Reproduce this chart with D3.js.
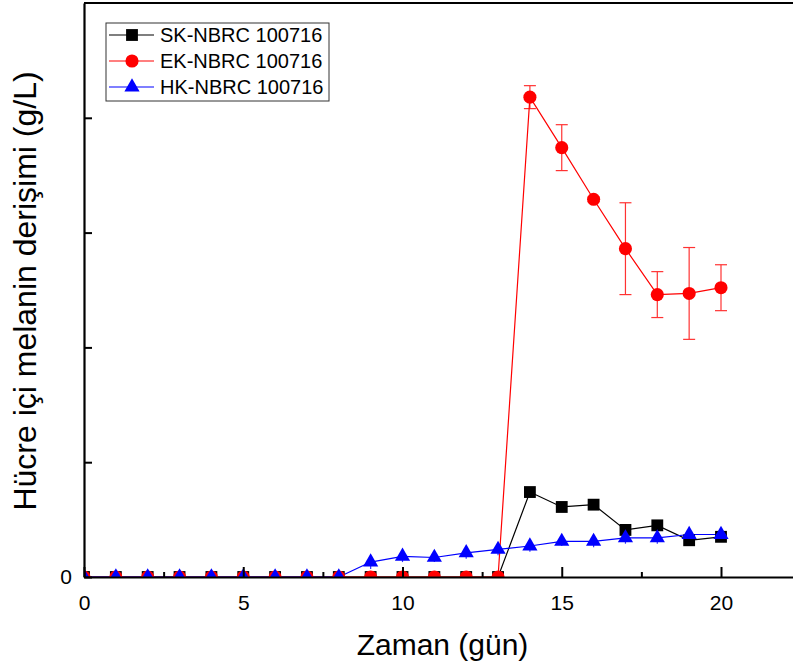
<!DOCTYPE html>
<html>
<head>
<meta charset="utf-8">
<script src="https://cdn.jsdelivr.net/npm/d3@7"></script>
<style>
  body { margin: 0; background: #fff; }
  svg { display: block; font-family: "Liberation Sans", Arial, sans-serif; }
</style>
</head>
<body>
<svg class="chart" width="793" height="668"></svg>
<script>
const days = [0, 1, 2, 3, 4, 5, 6, 7, 8, 9, 10, 11, 12, 13, 14, 15, 16, 17, 18, 19, 20];
const skValues = [0, 0, 0, 0, 0, 0, 0, 0, 0, 0, 0, 0, 0, 0, 0.74, 0.61, 0.63, 0.41, 0.45, 0.32, 0.35];
const ekValues = [0, 0, 0, 0, 0, 0, 0, 0, 0, 0, 0, 0, 0, 0, 4.18, 3.74, 3.29, 2.86, 2.46, 2.47, 2.52];
const ekErrors = [0, 0, 0, 0, 0, 0, 0, 0, 0, 0, 0, 0, 0, 0, 0.10, 0.20, 0.02, 0.40, 0.20, 0.40, 0.20];
const hkValues = [0, 0, 0, 0, 0, 0, 0, 0, 0, 0.13, 0.18, 0.17, 0.21, 0.24, 0.27, 0.31, 0.31, 0.34, 0.34, 0.37, 0.37];
const hkErrors = [0, 0, 0, 0, 0, 0, 0, 0, 0, 0.06, 0.05, 0.04, 0.05, 0.05, 0.05, 0.04, 0.05, 0.05, 0.05, 0.04, 0.03];
const seriesNames = ["SK-NBRC 100716", "EK-NBRC 100716", "HK-NBRC 100716"];
const seriesColors = ["#000000", "#ff0000", "#0000ff"];
const xMajorTicks = [0, 5, 10, 15, 20];
const xMinorTicks = [2.5, 7.5, 12.5, 17.5];
const yTicks = [0, 1, 2, 3, 4];

const series = [
  {name: seriesNames[0], color: seriesColors[0], values: skValues, errors: null, symbol: d3.symbolSquare, size: 140},
  {name: seriesNames[1], color: seriesColors[1], values: ekValues, errors: ekErrors, symbol: d3.symbolCircle, size: 135},
  {name: seriesNames[2], color: seriesColors[2], values: hkValues, errors: hkErrors, symbol: d3.symbolTriangle, size: 100},
];

const svg = d3.select('svg.chart');
const plotLeft = 84, plotTop = 3, plotBottom = 577;

const x = d3.scaleLinear().domain([0, 22.5]).range([plotLeft, plotLeft + 22.5 * 31.85]);
const y = d3.scaleLinear().domain([0, 5]).range([plotBottom, plotTop]);

svg.append('clipPath').attr('id', 'plotClip')
  .append('rect')
  .attr('x', plotLeft).attr('y', plotTop)
  .attr('width', 793 - plotLeft).attr('height', plotBottom - plotTop);

const plot = svg.append('g').attr('clip-path', 'url(#plotClip)');

// lines
series.forEach(s => {
  const line = d3.line().x((d, i) => x(days[i])).y(d => y(d));
  plot.append('path')
    .datum(s.values)
    .attr('d', line)
    .attr('fill', 'none')
    .attr('stroke', s.color)
    .attr('stroke-width', 1.2);
});

// error bars
series.filter(s => s.errors).forEach(s => {
  const eg = plot.append('g').attr('stroke', s.color).attr('stroke-width', 1.2).attr('opacity', 0.8);
  s.values.forEach((v, i) => {
    const e = s.errors[i];
    if (!e) return;
    const cx = x(days[i]);
    eg.append('line').attr('x1', cx).attr('x2', cx).attr('y1', y(v + e)).attr('y2', y(v - e));
    if (s.symbol === d3.symbolCircle) {
      [v + e, v - e].forEach(b => {
        eg.append('line').attr('x1', cx - 6).attr('x2', cx + 6).attr('y1', y(b)).attr('y2', y(b));
      });
    }
  });
});

// markers
series.forEach(s => {
  plot.selectAll(null)
    .data(s.values)
    .enter()
    .append('path')
    .attr('d', d3.symbol().type(s.symbol).size(s.size))
    .attr('transform', (d, i) => `translate(${x(days[i])},${y(d)})`)
    .attr('fill', s.color);
});

// axes
const xAxis = svg.append('g')
  .attr('transform', `translate(0,${plotBottom})`)
  .call(d3.axisBottom(x).tickValues(xMajorTicks).tickSizeInner(-10).tickSizeOuter(0).tickPadding(18));
xAxis.select('.domain').attr('stroke-width', 2.2);
xAxis.selectAll('.tick line').attr('stroke-width', 2);
xAxis.selectAll('text').attr('font-size', 21).attr('fill', '#000');

svg.append('g')
  .attr('transform', `translate(0,${plotBottom})`)
  .call(d3.axisBottom(x).tickValues(xMinorTicks).tickSizeInner(-5).tickSizeOuter(0).tickFormat(''))
  .call(g => g.select('.domain').remove())
  .selectAll('.tick line').attr('stroke-width', 2);

const yAxis = svg.append('g')
  .attr('transform', `translate(${plotLeft},0)`)
  .call(d3.axisLeft(y).tickValues(yTicks).tickSizeInner(-8).tickSizeOuter(0).tickPadding(12)
    .tickFormat(d => d === 0 ? '0' : ''));
yAxis.select('.domain').attr('stroke-width', 2.2);
yAxis.selectAll('.tick line').attr('stroke-width', 2);
yAxis.selectAll('text').attr('font-size', 21).attr('fill', '#000');

// top border
svg.append('line')
  .attr('x1', plotLeft).attr('x2', 793).attr('y1', plotTop).attr('y2', plotTop)
  .attr('stroke', '#000').attr('stroke-width', 2.2);

// axis titles
svg.append('text')
  .attr('x', (x(0) + x(20)) / 2 + 40)
  .attr('y', 655)
  .attr('text-anchor', 'middle')
  .attr('font-size', 30)
  .text('Zaman (gün)');

svg.append('text')
  .attr('transform', `translate(36,${(y(0) + y(5)) / 2 + 1}) rotate(-90)`)
  .attr('text-anchor', 'middle')
  .attr('font-size', 32)
  .text('Hücre içi melanin derişimi (g/L)');

// legend
const legend = svg.append('g');
legend.append('rect')
  .attr('x', 106).attr('y', 23).attr('width', 223).attr('height', 78)
  .attr('fill', '#fff').attr('stroke', '#333').attr('stroke-width', 1);

series.forEach((s, i) => {
  const ly = 35 + i * 26;
  legend.append('line')
    .attr('x1', 109).attr('x2', 154).attr('y1', ly).attr('y2', ly)
    .attr('stroke', s.color).attr('stroke-width', 1.2);
  legend.append('path')
    .attr('d', d3.symbol().type(s.symbol).size(s.size))
    .attr('transform', `translate(132,${ly})`)
    .attr('fill', s.color);
  legend.append('text')
    .attr('x', 160).attr('y', ly)
    .attr('dy', '0.36em')
    .attr('font-size', 20)
    .text(s.name);
});
</script>
</body>
</html>
